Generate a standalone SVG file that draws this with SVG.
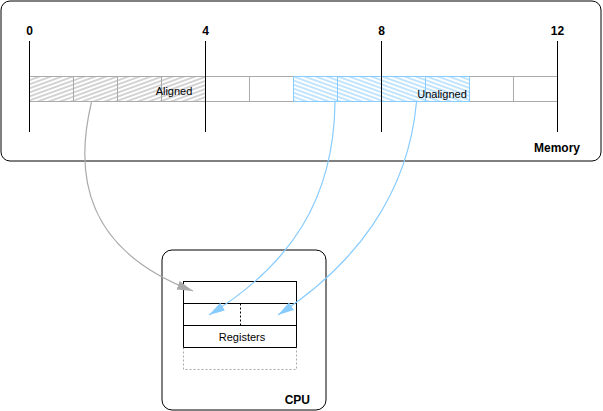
<svg xmlns="http://www.w3.org/2000/svg" width="603" height="411" viewBox="0 0 603 411">
<style>
text{font-family:"Liberation Sans",Arial,sans-serif;fill:#000}
.num{font-size:12px;font-weight:bold;text-anchor:middle}
.lbl{font-size:11px;text-anchor:middle}
.title{font-size:12px;font-weight:bold;text-anchor:end}
.box{fill:#fff;stroke:#000;stroke-width:1}
.cell{stroke:#aaa;stroke-width:1}
.ucell{stroke:#88ccff;stroke-width:1}
.tick{stroke:#000;stroke-width:1}
.reg{fill:#fff;stroke:#000;stroke-width:1}
.conn{fill:none;stroke-width:1.2}
</style>
<defs>
<pattern id="hg" width="10" height="3.8" patternUnits="userSpaceOnUse" patternTransform="rotate(-20)">
<rect width="10" height="3.8" fill="#fff"/>
<line x1="0" y1="1.9" x2="10" y2="1.9" stroke="#aaa" stroke-width="1"/>
</pattern>
<pattern id="hb" width="10" height="3.8" patternUnits="userSpaceOnUse" patternTransform="rotate(20)">
<rect width="10" height="3.8" fill="#fff"/>
<line x1="0" y1="1.9" x2="10" y2="1.9" stroke="#88ccff" stroke-width="1"/>
</pattern>
<marker id="ag" markerUnits="userSpaceOnUse" markerWidth="18" markerHeight="10" refX="16" refY="5" orient="auto">
<path d="M0,0.5 L16,5 L0,9.5 Z" fill="#aaa"/>
</marker>
<marker id="ab" markerUnits="userSpaceOnUse" markerWidth="18" markerHeight="10" refX="16" refY="5" orient="auto">
<path d="M0,0.5 L16,5 L0,9.5 Z" fill="#88ccff"/>
</marker>
</defs>
<g id="memory">
<rect class="box" x="1" y="1" width="600" height="160" rx="9"/>
<rect x="29.5" y="76.5" width="176" height="25" fill="url(#hg)"/>
<rect x="293.5" y="76.5" width="176" height="25" fill="url(#hb)"/>
<line class="cell" x1="29.5" y1="76.5" x2="557.5" y2="76.5"/>
<line class="cell" x1="29.5" y1="101.5" x2="557.5" y2="101.5"/>
<g class="cell">
<line x1="73.5" y1="76.5" x2="73.5" y2="101.5"/>
<line x1="117.5" y1="76.5" x2="117.5" y2="101.5"/>
<line x1="161.5" y1="76.5" x2="161.5" y2="101.5"/>
<line x1="249.5" y1="76.5" x2="249.5" y2="101.5"/>
<line x1="513.5" y1="76.5" x2="513.5" y2="101.5"/>
</g>
<g class="ucell">
<line x1="293.5" y1="76.5" x2="469.5" y2="76.5"/>
<line x1="293.5" y1="101.5" x2="469.5" y2="101.5"/>
<line x1="293.5" y1="76.5" x2="293.5" y2="101.5"/>
<line x1="337.5" y1="76.5" x2="337.5" y2="101.5"/>
<line x1="425.5" y1="76.5" x2="425.5" y2="101.5"/>
<line x1="469.5" y1="76.5" x2="469.5" y2="101.5"/>
</g>
<g class="tick">
<line x1="29.5" y1="41" x2="29.5" y2="132"/>
<line x1="205.5" y1="41" x2="205.5" y2="132"/>
<line x1="381.5" y1="41" x2="381.5" y2="132"/>
<line x1="557.5" y1="41" x2="557.5" y2="132"/>
</g>
<text class="num" x="29.5" y="35">0</text>
<text class="num" x="205.5" y="35">4</text>
<text class="num" x="381.5" y="35">8</text>
<text class="num" x="557.5" y="35">12</text>
<text class="lbl" x="174" y="95">Aligned</text>
<text class="lbl" x="442" y="98">Unaligned</text>
<text class="title" x="580" y="152">Memory</text>
</g>
<g id="cpu">
<rect class="box" x="162" y="250" width="164" height="160" rx="10"/>
<rect class="reg" x="183.5" y="281.5" width="113" height="22"/>
<rect class="reg" x="183.5" y="303.5" width="113" height="22"/>
<rect class="reg" x="183.5" y="325.5" width="113" height="22"/>
<line x1="240.5" y1="303.5" x2="240.5" y2="325.5" stroke="#000" stroke-dasharray="2,2"/>
<path d="M183.5,347.5 V369.5 H296.5 V347.5" fill="none" stroke="#aaa" stroke-dasharray="2,2"/>
<line x1="183.5" y1="347.5" x2="296.5" y2="347.5" stroke="#000" stroke-dasharray="2,2"/>
<text class="lbl" x="242" y="341">Registers</text>
<text class="title" x="310" y="404">CPU</text>
</g>
<g id="connectors">
<path class="conn" stroke="#aaa" d="M91.5,102 C74,175 85,250 193,291" marker-end="url(#ag)"/>
<path class="conn" stroke="#88ccff" d="M335,102 C334,200 290,265 209,315" marker-end="url(#ab)"/>
<path class="conn" stroke="#88ccff" d="M416.5,102 C408,195 355,265 278,315" marker-end="url(#ab)"/>
</g>
</svg>
